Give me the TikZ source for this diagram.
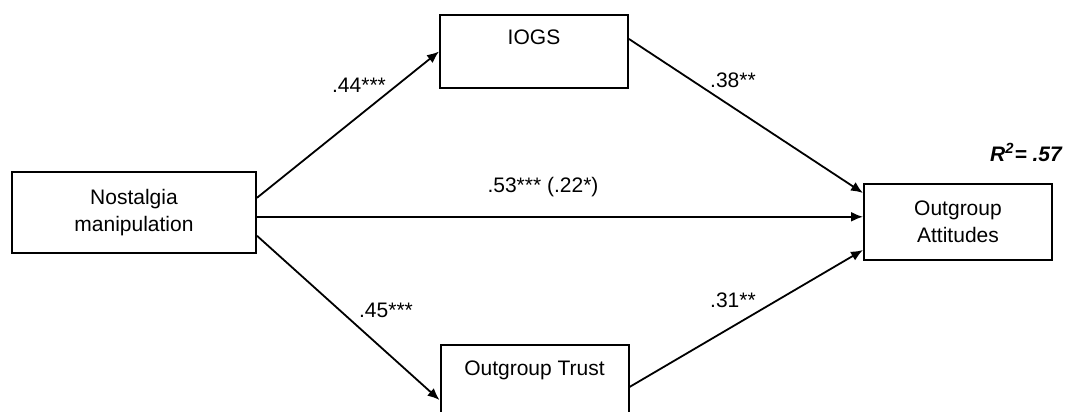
\documentclass[tikz,border=0pt]{standalone}
\usepackage{fontspec}
\setmainfont{Liberation Sans}
\usepackage{tikz}
\usetikzlibrary{arrows.meta}

\tikzset{
  varbox/.style={draw, line width=1pt, minimum width=94pt, align=center},
  topbox/.style={varbox, inner ysep=7.5pt, text height=7.5pt, text depth=14pt},
  path/.style={line width=0.9pt, -{Latex[length=6pt,width=5pt]}},
}

\begin{document}
\begin{tikzpicture}[x=0.5pt,y=-0.5pt,font=\fontsize{10.5}{13.5}\selectfont]
\useasboundingbox (0,0) rectangle (1067,412);

% boxes
\node[varbox, minimum width=122pt, minimum height=40.5pt] (nost) at (134,212.8) {Nostalgia\\manipulation};
\node[topbox] (iogs) at (534,51.5) {IOGS};
\node[topbox, anchor=north] (trust) at (534.5,344) {Outgroup Trust};
\node[varbox, minimum height=38pt] (att) at (958,222) {Outgroup\\Attitudes};

% paths
\draw[path] ([yshift=7.5pt]nost.east) -- (iogs.west);
\draw[path] ([yshift=-2pt]nost.east) -- ([yshift=-2pt]nost.east -| att.west);
\draw[path] ([yshift=-11.5pt]nost.east) -- ([yshift=-9.25pt]trust.west);
\draw[path] ([yshift=6.25pt]iogs.east) -- ([yshift=14.5pt]att.west);
\draw[path] ([yshift=-2.75pt]trust.east) -- ([yshift=-14pt]att.west);

% coefficients
\node (a) at (359,85) {.44***};
\node (b) at (386,310) {.45***};
\node (c) at (733,80) {.38**};
\node (d) at (733,300) {.31**};
\node (cp) at (543,187) {.53*** (.22*)};
\node (rsq) at (1026,152) {\bfseries\itshape R\textsuperscript{2}= .57};
\end{tikzpicture}
\end{document}
